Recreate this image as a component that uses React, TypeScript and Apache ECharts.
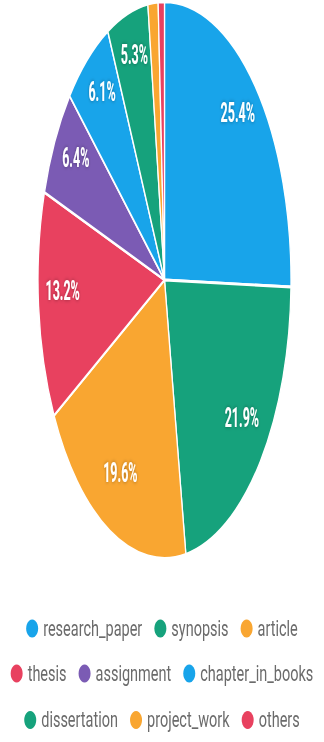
import React, { useEffect, useRef } from "react";
import * as echarts from "echarts";

const categories = [
  "research_paper",
  "synopsis",
  "article",
  "thesis",
  "assignment",
  "chapter_in_books",
  "dissertation",
  "project_work",
  "others",
];
const shares = [25.4, 21.9, 19.6, 13.2, 6.4, 6.1, 5.3, 1.3, 0.8];
const palette = ["#18a4ea", "#16a27c", "#f9a631", "#e8415f", "#7b5bb4"];
const legendRows = [categories.slice(0, 3), categories.slice(3, 6), categories.slice(6)];

const PIE_SCALE_Y = 2.2;
const LEG_SCALE_Y = 1.5;

export default function App() {
  const pieRef = useRef<HTMLDivElement>(null);
  const legRef = useRef<HTMLDivElement>(null);

  useEffect(() => {
    const pie = echarts.init(pieRef.current!, null, { renderer: "svg" });
    const leg = echarts.init(legRef.current!, null, { renderer: "svg" });

    const data = categories.map((name, i) => ({
      name,
      value: shares[i],
      itemStyle: { color: palette[i % palette.length] },
    }));

    const R = 126.5;
    const center = [164.5, 280 / PIE_SCALE_Y];

    pie.setOption({
      animation: false,
      series: [
        {
          type: "pie",
          center,
          radius: [0, R],
          startAngle: 90,
          clockwise: true,
          data,
          itemStyle: { borderColor: "#ffffff", borderWidth: 1.3 },
          label: { show: false },
          labelLine: { show: false },
          silent: true,
        },
        {
          type: "pie",
          center,
          radius: [R * 0.57, R],
          startAngle: 90,
          clockwise: true,
          silent: true,
          data: categories.map((name, i) => ({
            name,
            value: shares[i],
            label: { show: shares[i] >= 2 },
          })),
          itemStyle: { color: "transparent", borderWidth: 0 },
          label: {
            show: true,
            position: "inside",
            offset: [0, -4.7],
            formatter: (p: any) => `${p.value}%`,
            color: "#ffffff",
            fontFamily: "Roboto",
            fontWeight: "bold",
            fontSize: 12.5,
            textShadowColor: "rgba(0,0,0,0.35)",
            textShadowBlur: 2,
          },
          labelLine: { show: false },
        },
      ],
    });

    leg.setOption({
      animation: false,
      legend: legendRows.map((row, k) => ({
        data: row,
        top: [10, 40, 71][k],
        left: "center",
        orient: "horizontal",
        icon: "circle",
        itemWidth: 12,
        itemHeight: 12,
        itemGap: 12,
        padding: 0,
        textStyle: {
          color: "#6b6b6b",
          fontSize: 14.5,
          fontFamily: "Roboto",
          lineHeight: 18,
        },
      })),
      series: [
        {
          type: "pie",
          center: [-50, -50],
          radius: [0, 0],
          silent: true,
          data,
          label: { show: false },
          labelLine: { show: false },
        },
      ],
    });

    return () => {
      pie.dispose();
      leg.dispose();
    };
  }, []);

  return (
    <div
      style={{
        position: "fixed",
        left: 0,
        top: 0,
        width: 324,
        height: 742,
        background: "#ffffff",
        overflow: "hidden",
      }}
    >
      <div
        ref={pieRef}
        style={{
          position: "absolute",
          left: 0,
          top: 0,
          width: 324,
          height: 260,
          transform: `scaleY(${PIE_SCALE_Y})`,
          transformOrigin: "0 0",
        }}
      />
      <div
        ref={legRef}
        style={{
          position: "absolute",
          left: 0,
          top: 600,
          width: 324,
          height: 94,
          transform: `scaleY(${LEG_SCALE_Y})`,
          transformOrigin: "0 0",
        }}
      />
    </div>
  );
}
